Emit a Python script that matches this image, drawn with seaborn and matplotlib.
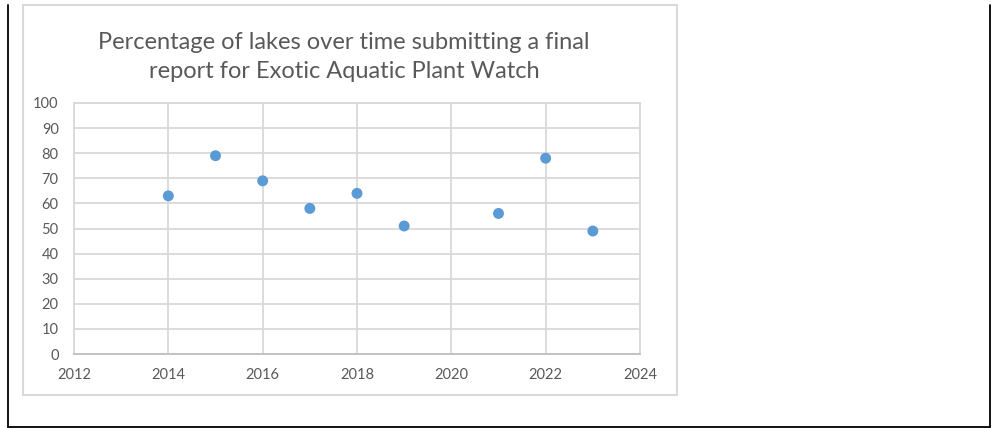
import matplotlib
matplotlib.use("Agg")
import matplotlib.pyplot as plt
import seaborn as sns
import pandas as pd
from matplotlib.lines import Line2D
from matplotlib.patches import Rectangle

years = [2014, 2015, 2016, 2017, 2018, 2019, 2021, 2022, 2023]
percent = [63, 79, 69, 58, 64, 51, 56, 78, 49]
x_ticks = [2012, 2014, 2016, 2018, 2020, 2022, 2024]
y_ticks = [0, 10, 20, 30, 40, 50, 60, 70, 80, 90, 100]
title = "Percentage of lakes over time submitting a final\nreport for Exotic Aquatic Plant Watch"

sns.set_style("white")
plt.rcParams['font.family'] = ['Lato', 'DejaVu Sans']

df = pd.DataFrame({"year": years, "pct": percent})

fig = plt.figure(figsize=(9.92, 4.28), dpi=100)
ax = fig.add_axes([74/992, 1-354/428, (640-74)/992, (354-103)/428])

sns.scatterplot(data=df, x="year", y="pct", ax=ax, color="#5B9BD5", s=62,
                edgecolor="none", zorder=3, clip_on=False)

ax.set_xlim(2012, 2024)
ax.set_ylim(0, 100)
ax.set_xticks(x_ticks)
ax.set_yticks(y_ticks)
ax.grid(True, color="#D9D9D9", linewidth=1.3)
ax.set_axisbelow(True)
for name, sp in ax.spines.items():
    sp.set_color("#D9D9D9")
    sp.set_linewidth(1.3)
ax.spines['bottom'].set_color("#BFBFBF")
ax.tick_params(axis='both', length=0, labelsize=10.5, labelcolor="#595959")
ax.tick_params(axis='x', pad=10)
ax.tick_params(axis='y', pad=11)
ax.set_xlabel("")
ax.set_ylabel("")

fig.text(344/992, 1-57/428, title, ha="center", va="center", fontsize=17,
         color="#595959", linespacing=1.42)

# chart frame
fig.patches.append(Rectangle((23/992, 1-395/428), 654/992, 390/428,
                             transform=fig.transFigure, fill=False,
                             edgecolor="#D9D9D9", linewidth=1.5))
# outer black lines
def fx(px):
    return px/992
def fy(py):
    return 1-py/428
fig.lines.append(Line2D([fx(8), fx(8)], [fy(5), fy(427)], transform=fig.transFigure, color="black", linewidth=1.3))
fig.lines.append(Line2D([fx(8), fx(990)], [fy(427), fy(427)], transform=fig.transFigure, color="black", linewidth=1.3))
fig.lines.append(Line2D([fx(990), fx(990)], [fy(5), fy(427)], transform=fig.transFigure, color="black", linewidth=1.3))

fig.savefig("out.png", dpi=100)
